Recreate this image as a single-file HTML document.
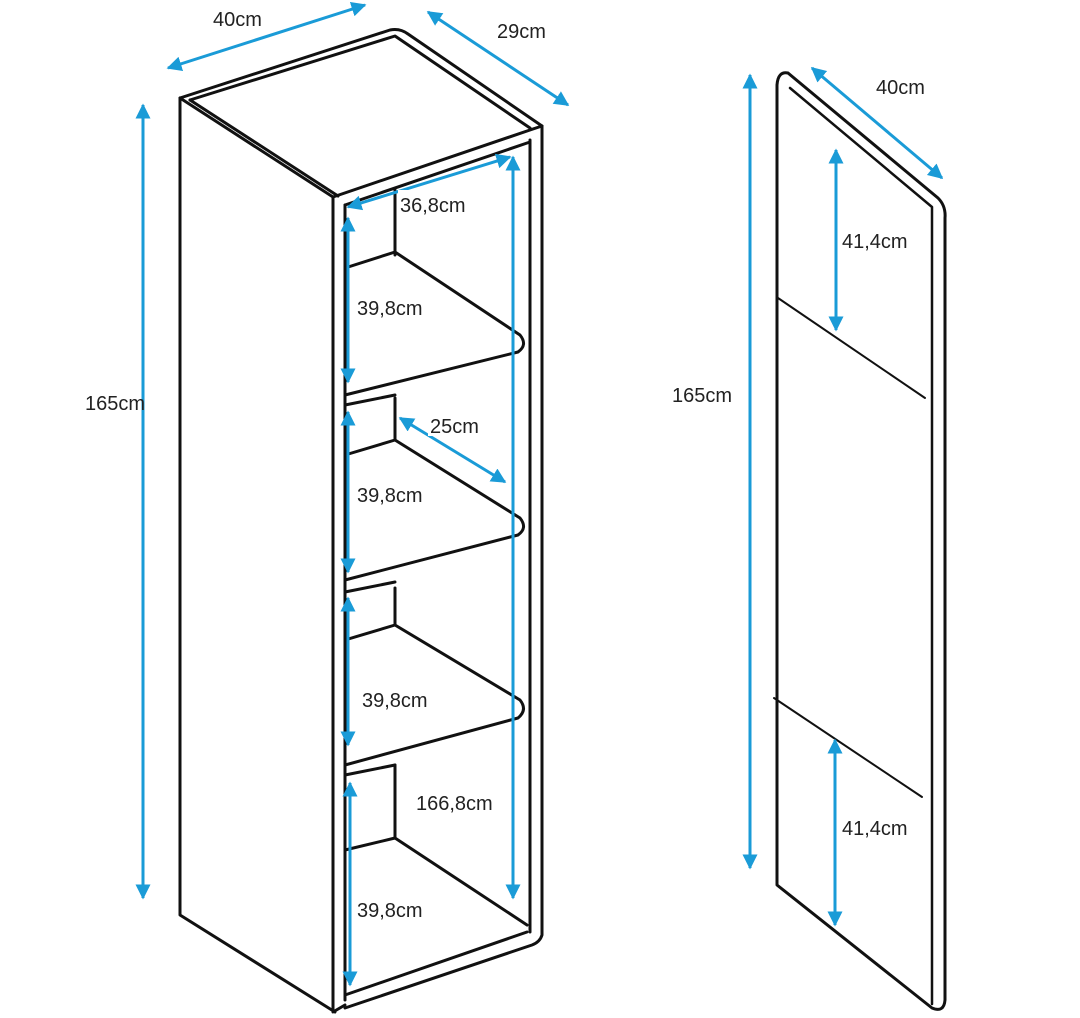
<!DOCTYPE html>
<html><head><style>
html,body{margin:0;padding:0;background:#fff;}
svg{display:block;}
text{font-family:"Liberation Sans",Arial,sans-serif;font-size:20px;fill:#222;}
</style></head><body>
<svg width="1080" height="1018" viewBox="0 0 1080 1018" xmlns="http://www.w3.org/2000/svg">
<defs>
<marker id="a" viewBox="0 0 10 10" refX="9" refY="5" markerWidth="5" markerHeight="5" orient="auto-start-reverse">
<path d="M0,0 L10,5 L0,10 z" fill="#1a9bd7"/></marker>
</defs>
<rect width="1080" height="1018" fill="#fff"/>
<g fill="none" stroke="#111" stroke-width="3" stroke-linejoin="round" stroke-linecap="round">
<path d="M180,98 L390,30 Q400,28 408,34 L542,126"/>
<path d="M190,100 L395,36 L530,128"/>
<path d="M180,98 L333,197"/>
<path d="M190,100 L338,196"/>
<path d="M333,197 L530,130 L542,126"/>
<path d="M180,98 L180,915 L335,1012"/>
<path d="M333,197 L333,1012 L345,1005"/>
<path d="M345,205 L345,1000"/>
<path d="M542,126 L542,935 Q540,942 532,945 L345,1008"/>
<path d="M530,140 L530,932"/>
<path d="M345,205 L530,142"/>
<path d="M395,190 L395,255"/>
<path d="M395,398 L395,440"/>
<path d="M395,588 L395,625"/>
<path d="M395,765 L395,838"/>
<path d="M345,268 L395,252 L520,335 Q528,345 518,352 L345,395"/>
<path d="M345,405 L395,395"/>
<path d="M345,455 L395,440 L520,518 Q528,528 518,535 L345,580"/>
<path d="M345,592 L395,582"/>
<path d="M345,640 L395,625 L520,700 Q528,710 518,718 L345,765"/>
<path d="M345,775 L395,765"/>
<path d="M345,850 L395,838 L527,925"/>
<path d="M345,995 L527,932"/>
<!-- door -->
<path d="M777,885 L777,85 Q778,71 788,73 L938,198 Q946,206 945,218 L945,1000 Q944,1013 932,1008 Z"/>
<path d="M790,88 L932,207 L932,1004" stroke-width="2.5"/>
<path d="M778,298 L925,398" stroke-width="2"/>
<path d="M774,698 L922,797" stroke-width="2"/>
</g>
<g stroke="#1a9bd7" stroke-width="3" fill="none" marker-start="url(#a)" marker-end="url(#a)">
<line x1="168" y1="68" x2="365" y2="5"/>
<line x1="428" y1="12" x2="568" y2="105"/>
<line x1="143" y1="105" x2="143" y2="898"/>
<line x1="348" y1="207" x2="510" y2="157"/>
<line x1="513" y1="157" x2="513" y2="898"/>
<line x1="348" y1="218" x2="348" y2="382"/>
<line x1="348" y1="412" x2="348" y2="572"/>
<line x1="348" y1="598" x2="348" y2="745"/>
<line x1="350" y1="783" x2="350" y2="985"/>
<line x1="400" y1="418" x2="505" y2="482"/>
<line x1="750" y1="75" x2="750" y2="868"/>
<line x1="812" y1="68" x2="942" y2="178"/>
<line x1="836" y1="150" x2="836" y2="330"/>
<line x1="835" y1="740" x2="835" y2="925"/>
</g>
<rect x="355" y="294" width="86" height="24" fill="#fff"/>
<rect x="355" y="482" width="86" height="24" fill="#fff"/>
<rect x="360" y="686" width="86" height="24" fill="#fff"/>
<rect x="355" y="896" width="86" height="24" fill="#fff"/>
<rect x="398" y="190" width="88" height="24" fill="#fff"/>
<rect x="428" y="412" width="66" height="24" fill="#fff"/>
<text x="213" y="26">40cm</text>
<text x="497" y="38">29cm</text>
<text x="85" y="410">165cm</text>
<text x="400" y="212">36,8cm</text>
<text x="357" y="315">39,8cm</text>
<text x="430" y="433">25cm</text>
<text x="357" y="502">39,8cm</text>
<text x="362" y="707">39,8cm</text>
<text x="416" y="810">166,8cm</text>
<text x="357" y="917">39,8cm</text>
<text x="672" y="402">165cm</text>
<text x="876" y="94">40cm</text>
<text x="842" y="248">41,4cm</text>
<text x="842" y="835">41,4cm</text>
</svg>
</body></html>
